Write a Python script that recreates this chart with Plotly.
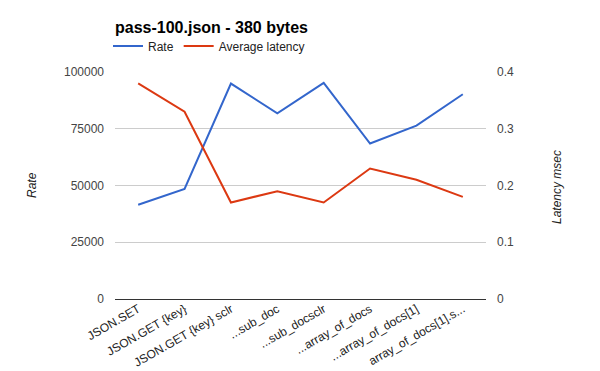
import plotly.graph_objects as go

categories = ["JSON.SET", "JSON.GET {key}", "JSON.GET {key} sclr", "...sub_doc",
              "...sub_docsclr", "...array_of_docs", "...array_of_docs[1]",
              "array_of_docs[1].s..."]
rate = [41500, 48500, 94900, 81800, 95200, 68500, 76400, 90200]
latency = [0.38, 0.33, 0.17, 0.19, 0.17, 0.23, 0.21, 0.18]
rate_ticks = [0, 25000, 50000, 75000, 100000]
lat_ticks = [0, 0.1, 0.2, 0.3, 0.4]

FONT = "Liberation Sans, Arial, sans-serif"
OFF = 8  # default page body margin
FW, FH = 600 - OFF, 371 - OFF
PL, PR, PT, PB = 115, 486, 72, 299  # plot area in window pixels
L, T = PL - OFF, PT - OFF
R, B = FW + OFF - PR, FH + OFF - PB
W, H = PR - PL, PB - PT


def px(x):
    return (x - PL) / W


def py(y):
    return 1 - (y - PT) / H


fig = go.Figure()
fig.add_trace(go.Scatter(x=categories, y=rate, name="Rate", mode="lines",
                         line=dict(color="#3366cc", width=2), yaxis="y"))
fig.add_trace(go.Scatter(x=categories, y=latency, name="Average latency", mode="lines",
                         line=dict(color="#dc3912", width=2), yaxis="y2"))

fig.update_layout(
    width=FW, height=FH,
    margin=dict(l=L, r=R, t=T, b=B, autoexpand=False),
    paper_bgcolor="white", plot_bgcolor="white",
    font=dict(family=FONT, size=12, color="#444"),
    title=dict(text="<b>pass-100.json - 380 bytes</b>", x=(115 - OFF) / FW, xanchor="left",
               y=1 - (27 - OFF) / FH, yanchor="middle", font=dict(size=16, color="#000")),
    showlegend=True,
    legend=dict(orientation="h", x=px(108), xanchor="left", y=py(46), yanchor="middle",
                font=dict(size=12, color="#222"), itemwidth=30, tracegroupgap=0,
                bgcolor="rgba(0,0,0,0)"),
    xaxis=dict(type="category", range=[-0.5, len(categories) - 0.5], tickangle=-30,
               showgrid=False, showline=False, ticks="",
               tickfont=dict(size=12, color="#222"), zeroline=False, automargin=False),
    yaxis=dict(range=[0, 100000], tickvals=rate_ticks, tickformat="d",
               gridcolor="#cccccc", zeroline=True, zerolinecolor="#333", zerolinewidth=1,
               ticks="", ticklabelstandoff=10, tickfont=dict(size=12, color="#444"),
               automargin=False),
    yaxis2=dict(range=[0, 0.4], tickvals=lat_ticks, overlaying="y", side="right",
                showgrid=False, zeroline=False, ticks="", ticklabelstandoff=10,
                tickfont=dict(size=12, color="#444"), automargin=False),
    annotations=[
        dict(text="<i>Rate</i>", x=px(32), y=py(185), xref="paper", yref="paper",
             xanchor="center", yanchor="middle", showarrow=False, textangle=-90,
             font=dict(size=12, color="#222")),
        dict(text="<i>Latency msec</i>", x=px(557), y=py(187), xref="paper", yref="paper",
             xanchor="center", yanchor="middle", showarrow=False, textangle=-90,
             font=dict(size=12, color="#222")),
    ],
)

fig.write_html("out.html")
